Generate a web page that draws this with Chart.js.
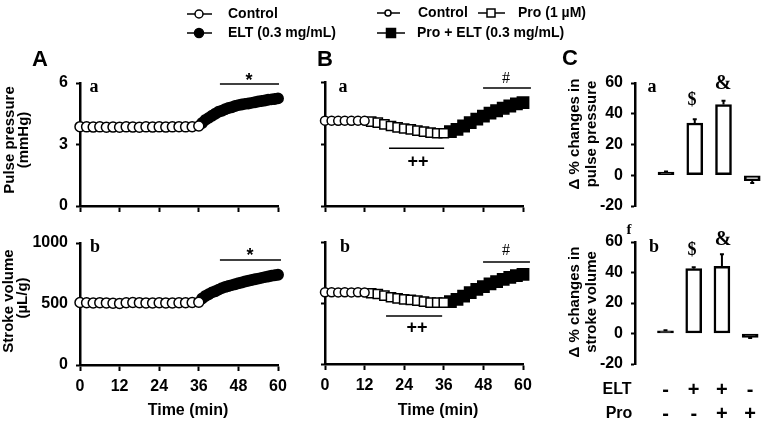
<!DOCTYPE html>
<html>
<head>
<meta charset="utf-8">
<script src="https://cdn.jsdelivr.net/npm/chart.js@4.4.0/dist/chart.umd.min.js"></script>
<style>
    body { margin: 0; background: #fff; }
    #wrap { position: relative; width: 762px; height: 423px; }
    #wrap canvas { position: absolute; left: 0; top: 0; }
</style>
</head>
<body>
<div id="wrap">
    <canvas id="aTop" width="762" height="423"></canvas>
    <canvas id="aBot" width="762" height="423"></canvas>
    <canvas id="bTop" width="762" height="423"></canvas>
    <canvas id="bBot" width="762" height="423"></canvas>
    <canvas id="cTop" width="762" height="423"></canvas>
    <canvas id="cBot" width="762" height="423"></canvas>
</div>
<script>
// ---- Panel A: control (0-36 min) then ELT (37-60 min)
const timeCtrlA = [0, 2, 4, 6, 8, 10, 12, 14, 16, 18, 20, 22, 24, 26, 28, 30, 32, 34, 36];
const ppCtrlA = [3.87, 3.86, 3.85, 3.86, 3.84, 3.85, 3.84, 3.86, 3.85, 3.84, 3.86, 3.85, 3.86, 3.85, 3.86, 3.87, 3.86, 3.87, 3.9];
const svCtrlA = [512, 510, 508, 511, 509, 506, 505, 510, 512, 511, 509, 508, 510, 509, 508, 510, 511, 512, 515];
const timeEltA = [37, 38, 39, 40, 41, 42, 43, 44, 45, 46, 47, 48, 49, 50, 51, 52, 53, 54, 55, 56, 57, 58, 59, 60];
const ppEltA = [4.05, 4.2, 4.3, 4.4, 4.5, 4.6, 4.65, 4.72, 4.78, 4.82, 4.88, 4.92, 4.95, 4.98, 5.0, 5.03, 5.06, 5.1, 5.12, 5.15, 5.18, 5.2, 5.22, 5.25];
const svEltA = [545, 565, 580, 595, 605, 618, 630, 640, 648, 655, 662, 670, 676, 684, 690, 697, 703, 708, 714, 720, 726, 732, 736, 740];

// ---- Panel B: control, Pro (1 uM), Pro + ELT
const timeCtrlB = [0, 2, 4, 6, 8, 10, 12];
const ppCtrlB = [4.13, 4.13, 4.12, 4.13, 4.12, 4.13, 4.12];
const svCtrlB = [588, 588, 587, 588, 587, 588, 586];
const timeProB = [14, 16, 18, 20, 22, 24, 26, 28, 30, 32, 34, 36];
const ppProB = [4.08, 4.03, 3.95, 3.87, 3.8, 3.75, 3.71, 3.65, 3.6, 3.55, 3.52, 3.52];
const svProB = [580, 574, 560, 547, 538, 530, 525, 519, 511, 503, 503, 503];
const timeProEltB = [38, 40, 42, 44, 46, 48, 50, 52, 54, 56, 58, 60];
const ppProEltB = [3.6, 3.71, 3.87, 4.03, 4.2, 4.35, 4.49, 4.61, 4.73, 4.84, 4.94, 5.0];
const svProEltB = [511, 530, 557, 585, 612, 634, 656, 675, 694, 710, 724, 735];

// ---- Panel C: % changes
const groupsC = ['Control', 'ELT', 'Pro + ELT', 'Pro'];
const eltSigns = ['-', '+', '+', '-'];
const proSigns = ['-', '-', '+', '+'];
const ppChange = [2, 34, 46, -3.5];
const ppErr = [0.5, 2.5, 2.5, 1.5];
const svChange = [1.8, 42.5, 44, -2.5];
const svErr = [0.3, 1, 8, 0.5];

const SANS = "'Liberation Sans', Arial, sans-serif";
const SERIF = "'Liberation Serif', 'Times New Roman', serif";

function xy(xs, ys) {
    return xs.map((x, i) => ({ x: x, y: ys[i] }));
}

function drawText(ctx, t) {
    ctx.save();
    ctx.font = t.font;
    ctx.fillStyle = '#000';
    ctx.textAlign = t.align || 'center';
    ctx.textBaseline = 'middle';
    ctx.translate(t.x, t.y);
    if (t.rot) ctx.rotate(-Math.PI / 2);
    ctx.fillText(t.text, 0, 0);
    ctx.restore();
}

// annotations: significance lines, error bars, texts, legend
const notesPlugin = {
    id: 'notes',
    afterDraw(chart, args, opts) {
        const ctx = chart.ctx;
        const xs = chart.scales.x, ys = chart.scales.y;
        ctx.save();
        ctx.strokeStyle = '#000';
        (opts.lines || []).forEach(l => {
            const py = ys.getPixelForValue(l.y);
            ctx.lineWidth = 1.5;
            ctx.beginPath();
            ctx.moveTo(xs.getPixelForValue(l.x0), py);
            ctx.lineTo(xs.getPixelForValue(l.x1), py);
            ctx.stroke();
        });
        if (opts.errors) {
            const vals = opts.errors.values, errs = opts.errors.errs;
            vals.forEach((v, i) => {
                const px = xs.getPixelForValue(i + 1);
                const dir = v < 0 ? -1 : 1;
                const y0 = ys.getPixelForValue(v);
                const y1 = ys.getPixelForValue(v + dir * errs[i]);
                ctx.lineWidth = 2;
                ctx.beginPath();
                ctx.moveTo(px, y0);
                ctx.lineTo(px, y1);
                ctx.moveTo(px - 2, y1);
                ctx.lineTo(px + 2, y1);
                ctx.stroke();
            });
        }
        (opts.texts || []).forEach(t => drawText(ctx, t));
        if (opts.legend) drawLegend(ctx);
        ctx.restore();
    }
};

function drawLegend(ctx) {
    const B = 'bold 14px ' + SANS;
    const items = [
        { x0: 187, x1: 212, y: 14, mx: 199, mark: 'circle', fill: '#fff', r: 4, label: 'Control', tx: 228 },
        { x0: 187, x1: 212, y: 33, mx: 199, mark: 'circle', fill: '#000', r: 4.5, label: 'ELT (0.3 mg/mL)', tx: 228 },
        { x0: 377, x1: 400, y: 13, mx: 388, mark: 'circle', fill: '#fff', r: 3, label: 'Control', tx: 418 },
        { x0: 478, x1: 505, y: 13, mx: 491, mark: 'rect', fill: '#fff', r: 4, label: 'Pro (1 \u00b5M)', tx: 518 },
        { x0: 377, x1: 405, y: 33, mx: 391, mark: 'rect', fill: '#000', r: 4.5, label: 'Pro + ELT (0.3 mg/mL)', tx: 417 }
    ];
    items.forEach(it => {
        ctx.strokeStyle = '#000';
        ctx.lineWidth = 1.5;
        ctx.beginPath();
        ctx.moveTo(it.x0, it.y);
        ctx.lineTo(it.x1, it.y);
        ctx.stroke();
        ctx.fillStyle = it.fill;
        ctx.beginPath();
        if (it.mark === 'circle') ctx.arc(it.mx, it.y, it.r, 0, Math.PI * 2);
        else ctx.rect(it.mx - it.r, it.y - it.r, it.r * 2, it.r * 2);
        ctx.fill();
        ctx.stroke();
        drawText(ctx, { text: it.label, x: it.tx, y: it.y, font: B, align: 'left' });
    });
}

function yAxis(min, max, step, width, showLabels) {
    return {
        min: min, max: max,
        border: { display: true, color: '#000', width: 2.5 },
        grid: { display: true, drawOnChartArea: false, drawTicks: true, tickLength: 4, tickColor: '#000', tickWidth: 2 },
        ticks: {
            stepSize: step, padding: 8, color: '#000',
            font: { family: SANS, size: 16, weight: 'bold' },
            callback: v => showLabels ? v : ''
        },
        afterFit: s => { s.width = width; }
    };
}

function timeAxis(showLabels, height) {
    return {
        type: 'linear', min: 0, max: 60,
        border: { display: true, color: '#000', width: 2.5 },
        grid: { display: true, drawOnChartArea: false, drawTicks: true, tickLength: 6, tickColor: '#000', tickWidth: 2 },
        ticks: {
            stepSize: 12, padding: 6, color: '#000', maxRotation: 0,
            font: { family: SANS, size: 16, weight: 'bold' },
            callback: v => showLabels ? v : ''
        },
        afterFit: s => { s.height = height; }
    };
}

function series(data, style, filled, r) {
    return {
        data: data,
        showLine: true,
        borderColor: '#000',
        borderWidth: 1,
        pointStyle: style,
        pointRadius: r,
        pointBackgroundColor: filled ? '#000' : '#fff',
        pointBorderColor: '#000',
        pointBorderWidth: 1.5,
        clip: false
    };
}

// area = chart area box in page pixels
function timeChart(id, area, yCfg, xCfg, datasets, notes) {
    new Chart(document.getElementById(id), {
        type: 'line',
        data: { datasets: datasets },
        options: {
            responsive: false,
            animation: false,
            devicePixelRatio: 1,
            layout: {
                padding: {
                    left: area.l - yCfg.w, top: area.t,
                    right: 762 - area.r, bottom: 423 - area.b - xCfg.h
                }
            },
            plugins: { legend: { display: false }, tooltip: { enabled: false }, notes: notes },
            scales: {
                x: timeAxis(xCfg.labels, xCfg.h),
                y: yAxis(yCfg.min, yCfg.max, yCfg.step, yCfg.w, yCfg.labels)
            }
        },
        plugins: [notesPlugin]
    });
}

function barChart(id, area, values, errs, fills, showSigns, notes) {
    const xH = showSigns ? 59 : 0;
    notes.errors = { values: values, errs: errs };
    new Chart(document.getElementById(id), {
        type: 'bar',
        data: {
            datasets: [{
                data: values.map((v, i) => ({ x: i + 1, y: v })),
                backgroundColor: fills,
                borderColor: '#000',
                borderWidth: 2.5,
                borderSkipped: false,
                barThickness: 16
            }]
        },
        options: {
            responsive: false,
            animation: false,
            devicePixelRatio: 1,
            layout: {
                padding: { left: area.l - 50, top: area.t, right: 762 - area.r, bottom: 423 - area.b - xH }
            },
            plugins: { legend: { display: false }, tooltip: { enabled: false }, notes: notes },
            scales: {
                x: {
                    type: 'linear', min: -0.08, max: 4.34, offset: false,
                    display: showSigns,
                    border: { display: false },
                    grid: { display: false },
                    afterBuildTicks: s => { s.ticks = groupsC.map((g, i) => ({ value: i + 1 })); },
                    ticks: {
                        autoSkip: false, maxRotation: 0, padding: 6, color: '#000',
                        font: { family: SANS, size: 20, weight: 'bold', lineHeight: 1.2 },
                        callback: (v, i) => [eltSigns[i], proSigns[i]]
                    },
                    afterFit: s => { s.height = xH; }
                },
                y: yAxis(-20, 60, 20, 50, true)
            }
        },
        plugins: [notesPlugin]
    });
}

const TB = 'bold 15px ' + SANS;
const LAB = 'bold 18px ' + SERIF;

timeChart('aTop', { l: 80, r: 278, t: 83, b: 206 },
    { min: 0, max: 6, step: 3, w: 50, labels: true }, { h: 8, labels: false },
    [series(xy(timeCtrlA, ppCtrlA), 'circle', false, 5), series(xy(timeEltA, ppEltA), 'circle', true, 5.2)],
    {
        legend: true,
        lines: [{ x0: 42.4, x1: 60.3, y: 5.95 }],
        texts: [
            { text: 'A', x: 40, y: 60, font: 'bold 22px ' + SANS },
            { text: 'B', x: 325, y: 60, font: 'bold 22px ' + SANS },
            { text: 'C', x: 570, y: 59, font: 'bold 22px ' + SANS },
            { text: 'a', x: 94, y: 87, font: LAB },
            { text: '*', x: 249, y: 81, font: 'bold 18px ' + SANS },
            { text: 'Pulse pressure', x: 10, y: 140, font: TB, rot: true },
            { text: '(mmHg)', x: 24, y: 140, font: TB, rot: true }
        ]
    });

timeChart('aBot', { l: 80, r: 278, t: 243, b: 365 },
    { min: 0, max: 1000, step: 500, w: 50, labels: true }, { h: 40, labels: true },
    [series(xy(timeCtrlA, svCtrlA), 'circle', false, 5), series(xy(timeEltA, svEltA), 'circle', true, 5.2)],
    {
        lines: [{ x0: 42.4, x1: 60.9, y: 860 }],
        texts: [
            { text: 'b', x: 95, y: 247, font: LAB },
            { text: '*', x: 250, y: 256, font: 'bold 18px ' + SANS },
            { text: 'Stroke volume', x: 9, y: 301, font: TB, rot: true },
            { text: '(\u00b5L/g)', x: 23, y: 298, font: TB, rot: true },
            { text: 'Time (min)', x: 188, y: 411, font: 'bold 16px ' + SANS }
        ]
    });

timeChart('bTop', { l: 325, r: 523, t: 82, b: 206 },
    { min: 0, max: 6, step: 3, w: 10, labels: false }, { h: 8, labels: false },
    [series(xy(timeCtrlB, ppCtrlB), 'circle', false, 4.5),
     series(xy(timeProB, ppProB), 'rect', false, 6.5),
     series(xy(timeProEltB, ppProEltB), 'rect', true, 8)],
    {
        lines: [{ x0: 47.9, x1: 62.4, y: 5.71 }, { x0: 19.4, x1: 36.1, y: 2.8 }],
        texts: [
            { text: 'a', x: 343, y: 87, font: LAB },
            { text: '#', x: 506, y: 79, font: '16px ' + SERIF },
            { text: '++', x: 418, y: 162, font: 'bold 18px ' + SANS }
        ]
    });

timeChart('bBot', { l: 325, r: 523, t: 242, b: 364 },
    { min: 0, max: 1000, step: 500, w: 10, labels: false }, { h: 40, labels: true },
    [series(xy(timeCtrlB, svCtrlB), 'circle', false, 4.5),
     series(xy(timeProB, svProB), 'rect', false, 6.5),
     series(xy(timeProEltB, svProEltB), 'rect', true, 8)],
    {
        lines: [{ x0: 47.9, x1: 62.1, y: 836 }, { x0: 18.5, x1: 35.5, y: 393 }],
        texts: [
            { text: 'b', x: 345, y: 247, font: LAB },
            { text: '#', x: 506, y: 251, font: '16px ' + SERIF },
            { text: '++', x: 417, y: 328, font: 'bold 18px ' + SANS },
            { text: 'Time (min)', x: 438, y: 411, font: 'bold 16px ' + SANS }
        ]
    });

barChart('cTop', { l: 635, r: 762, t: 83, b: 206 }, ppChange, ppErr, ['#000', '#fff', '#fff', '#fff'], false, {
    texts: [
        { text: 'a', x: 652, y: 87, font: LAB },
        { text: '$', x: 692, y: 100, font: 'bold 18px ' + SERIF },
        { text: '&', x: 723, y: 84, font: 'bold 20px ' + SERIF },
        { text: '\u0394 % changes in', x: 575, y: 134, font: TB, rot: true },
        { text: 'pulse pressure', x: 592, y: 134, font: TB, rot: true }
    ]
});

barChart('cBot', { l: 635, r: 762, t: 242, b: 364 }, svChange, svErr, ['#000', '#fff', '#fff', '#000'], true, {
    texts: [
        { text: 'b', x: 654, y: 247, font: LAB },
        { text: 'f', x: 629, y: 230, font: 'bold 15px ' + SERIF },
        { text: '$', x: 692, y: 250, font: 'bold 18px ' + SERIF },
        { text: '&', x: 723, y: 240, font: 'bold 20px ' + SERIF },
        { text: '\u0394 % changes in', x: 575, y: 302, font: TB, rot: true },
        { text: 'stroke volume', x: 592, y: 302, font: TB, rot: true },
        { text: 'ELT', x: 617, y: 390, font: 'bold 16px ' + SANS },
        { text: 'Pro', x: 619, y: 414, font: 'bold 16px ' + SANS }
    ]
});
</script>
</body>
</html>
